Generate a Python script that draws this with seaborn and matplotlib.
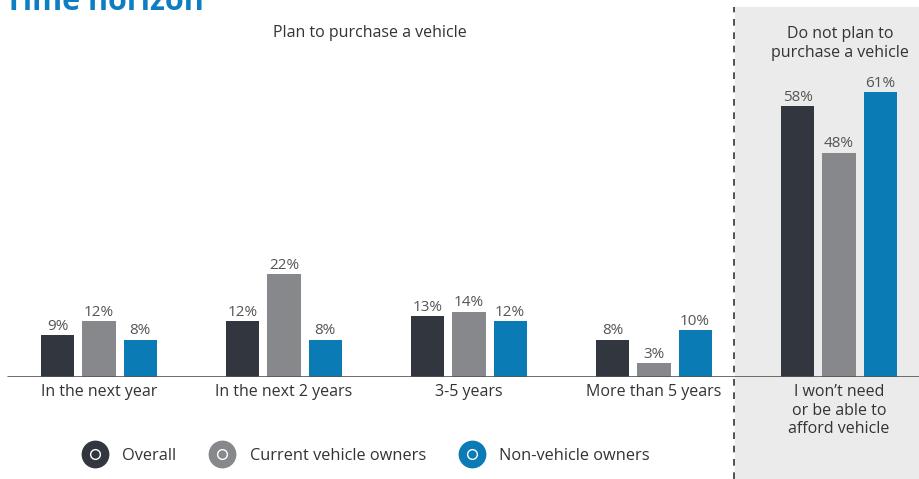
import pandas as pd
import numpy as np
import matplotlib
matplotlib.use('Agg')
import matplotlib.pyplot as plt
from matplotlib.lines import Line2D
from matplotlib.patches import Rectangle
from matplotlib.legend_handler import HandlerTuple
import seaborn as sns

# --- data ---
CATEGORIES = ['In the next year', 'In the next 2 years', '3-5 years',
              'More than 5 years', 'I won\u2019t need\nor be able to\nafford vehicle']
GROUPS = ['Overall', 'Current vehicle owners', 'Non-vehicle owners']
OVERALL = [9, 12, 13, 8, 58]
CURRENT_OWNERS = [12, 22, 14, 3, 48]
NON_OWNERS = [8, 8, 12, 10, 61]
COLORS = ['#32363f', '#86888c', '#0a7bb5']

df = pd.DataFrame({
    'category': CATEGORIES * 3,
    'group': [GROUPS[0]] * 5 + [GROUPS[1]] * 5 + [GROUPS[2]] * 5,
    'value': OVERALL + CURRENT_OWNERS + NON_OWNERS,
})

sns.set_style('white')
plt.rcParams['font.family'] = ['Open Sans', 'DejaVu Sans']

W, H = 920, 479
fig = plt.figure(figsize=(W / 100, H / 100), dpi=100)

# grey "do not plan" panel + dashed divider (figure pixels)
fig.patches.append(Rectangle((735 / W, 0), (W - 735) / W, 1 - 7 / H,
                             transform=fig.transFigure, color='#ebebeb', zorder=-5))
fig.add_artist(Line2D([734 / W, 734 / W], [0, 1 - 7 / H], transform=fig.transFigure,
                      color='#333333', lw=1.2, ls=(0, (4, 4)), zorder=-4))

base_px = 377
ax = fig.add_axes([0, (H - base_px) / H, 1, base_px / H])
ax.patch.set_alpha(0)

sns.barplot(data=df, x='category', y='value', hue='group', palette=COLORS,
            width=0.665, gap=0.195, saturation=1, legend=False, linewidth=0, ax=ax)

px_per_cat = 185
ax.set_xlim(-99 / px_per_cat, (W - 99) / px_per_cat)
ax.set_ylim(0, base_px / 4.67)

for c in ax.containers:
    ax.bar_label(c, fmt='%g%%', padding=1, color='#555555', fontsize=11)

ax.axhline(0, xmin=8 / W, xmax=1, color='#555555', lw=1.2)
for s in ax.spines.values():
    s.set_visible(False)
ax.set_yticks([])
ax.set_xlabel('')
ax.set_ylabel('')
ax.tick_params(axis='x', length=0, pad=5, labelsize=11.5, labelcolor='#333333')
for lbl in ax.get_xticklabels():
    lbl.set_verticalalignment('top')
    lbl.set_linespacing(1.22)

# section headers
fig.text(370 / W, 1 - 33 / H, 'Plan to purchase a vehicle', ha='center', va='center',
         fontsize=11.5, color='#333333')
fig.text(840 / W, 1 - 43.5 / H, 'Do not plan to\npurchase a vehicle', ha='center',
         va='center', fontsize=11.5, color='#333333', linespacing=1.22)

# title (top clipped in the reference)
fig.text(5 / W, 1 - 10 / H, 'Time horizon', ha='left', va='baseline', fontsize=22,
         weight='bold', color='#0d7ec2')

# legend: filled circle with small hollow ring inside
handles = []
for col in COLORS:
    big = Line2D([], [], marker='o', ls='', markersize=19, markerfacecolor=col,
                 markeredgecolor=col)
    small = Line2D([], [], marker='o', ls='', markersize=7, markerfacecolor='none',
                   markeredgecolor='white', markeredgewidth=1)
    handles.append((big, small))
fig.legend(handles, GROUPS, handler_map={tuple: HandlerTuple(ndivide=1, pad=0)},
           loc='center left', bbox_to_anchor=(70 / W, 1 - 456 / H), ncol=3,
           frameon=False, fontsize=11.8, handlelength=1.3, handletextpad=1.0,
           columnspacing=2.15, labelcolor='#333333')

fig.savefig('out.png', dpi=100)
